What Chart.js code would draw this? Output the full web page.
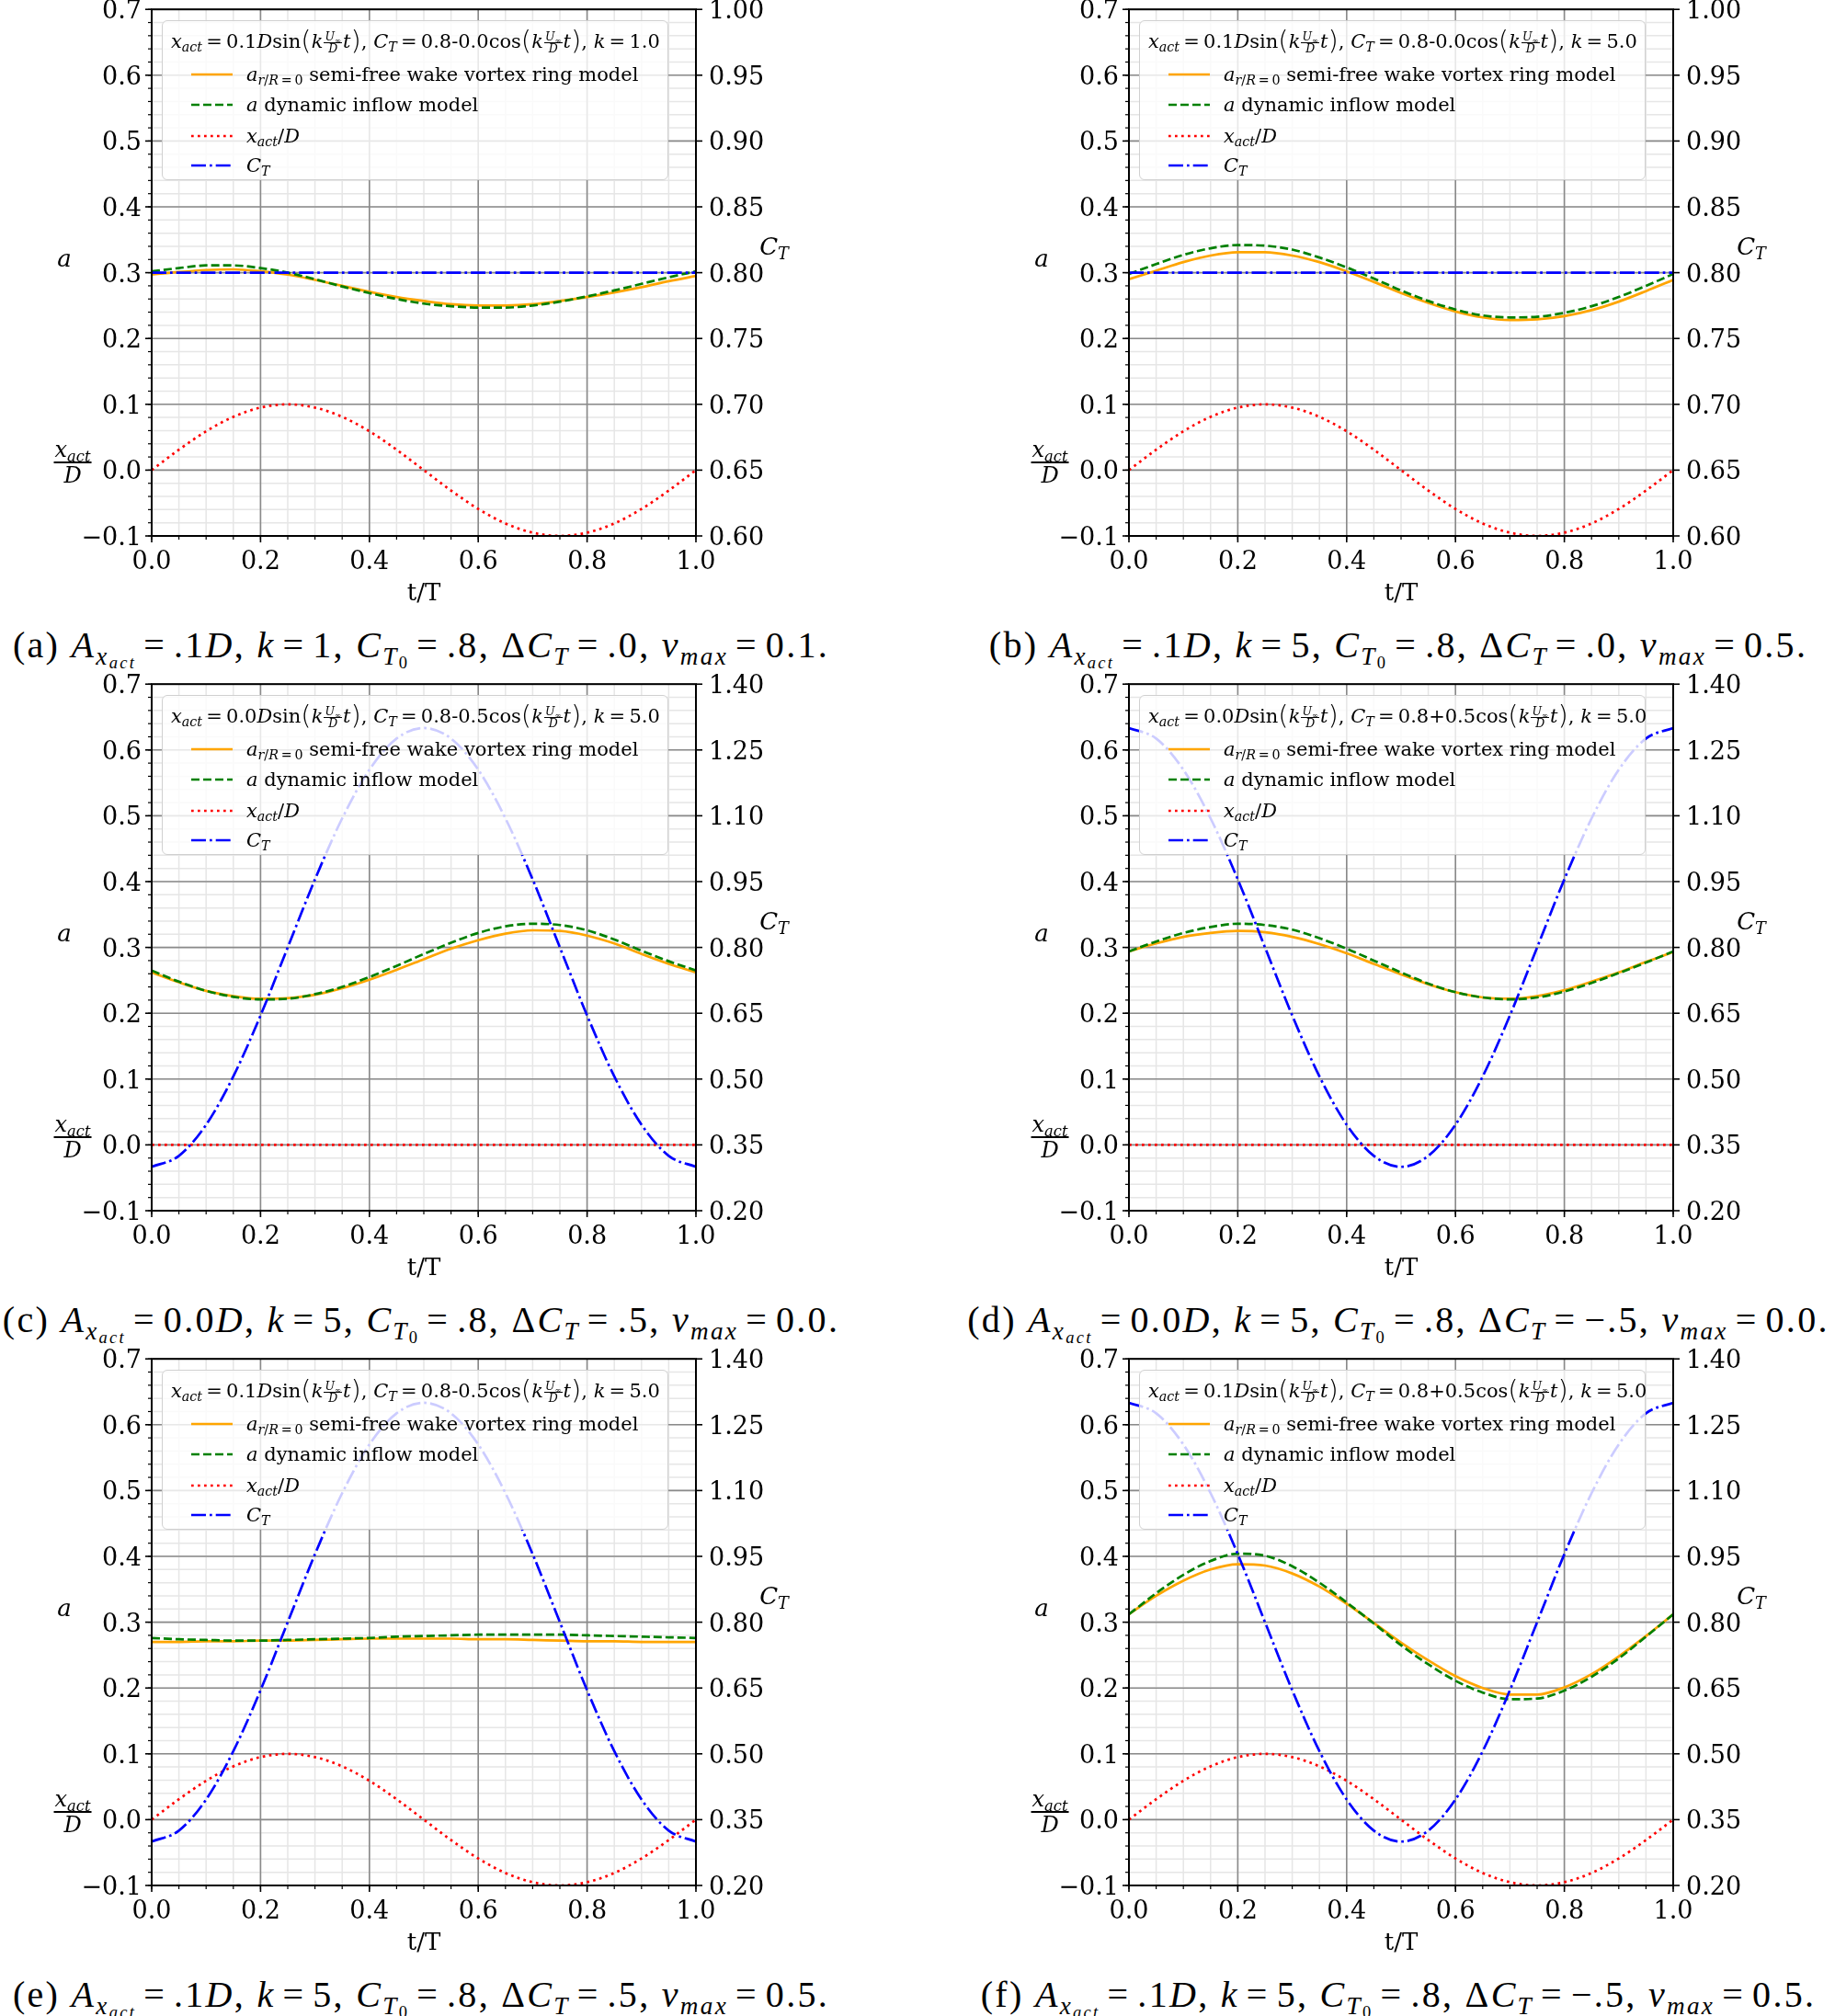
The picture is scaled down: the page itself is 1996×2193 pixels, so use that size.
<!DOCTYPE html>
<html>
<head>
<meta charset="utf-8">
<script src="https://cdn.jsdelivr.net/npm/chart.js@4.4.1/dist/chart.umd.min.js"></script>
<style>
  body { margin: 0; background: #fff; width: 1996px; height: 2193px; position: relative; overflow: hidden; font-family: "DejaVu Serif", serif; color: #000; }
  .panel { position: absolute; width: 592px; height: 573px; }
  .panel canvas { position: absolute; left: -160px; top: -30px; }
  .leg { position: absolute; left: 11px; top: 12px; width: 551px; height: 174px; box-sizing: border-box;
         background: rgba(255,255,255,0.8); border: 1.5px solid #d0d0d0; border-radius: 6px; }
  .leg .ttl { position: absolute; left: 9px; top: 7px; white-space: nowrap; font-size: 21px; line-height: 30px; }
  .leg .row { position: absolute; left: 31px; height: 30px; display: flex; align-items: center; font-size: 21px; white-space: nowrap; }
  .leg .row svg { margin-right: 15px; }
  sub { font-size: 0.68em; vertical-align: -0.3em; line-height: 0; }
  .fr { display: inline-flex; flex-direction: column; align-items: center; vertical-align: middle; font-size: 12.5px; line-height: 12px; margin: 0 1px; }
  .fr > span:first-child { border-bottom: 1px solid #000; padding: 0 1px; }
  .par { font-size: 29px; line-height: 10px; vertical-align: -2px; font-family: "DejaVu Sans", sans-serif; font-weight: 300; }
  .lab { position: absolute; font-size: 26px; line-height: 30px; white-space: nowrap; transform: translate(-50%, -50%); }
  .afr { position: absolute; display: flex; flex-direction: column; align-items: center; font-size: 24px; line-height: 26px; font-style: italic; transform: translate(-50%, -50%); }
  .afr > span:first-child { border-bottom: 2px solid #000; padding: 0 1px 0; }
  .cap { position: absolute; white-space: nowrap; font-family: "Liberation Serif", serif; font-size: 40px; line-height: 40px; letter-spacing: 2.3px; transform: translateX(-50%); }
  .cap .eq { margin: 0 0.2em; }
  .cap sub sub { vertical-align: -0.2em; }
</style>
</head>
<body>
<script>
// sample times t/T
const tVals = [0, 0.05, 0.1, 0.15, 0.2, 0.25, 0.3, 0.35, 0.4, 0.45, 0.5, 0.55, 0.6, 0.65, 0.7, 0.75, 0.8, 0.85, 0.9, 0.95, 1.0];

// actuator displacement x_act/D
const xActSine = [0, 0.031, 0.059, 0.081, 0.095, 0.1, 0.095, 0.081, 0.059, 0.031, 0, -0.031, -0.059, -0.081, -0.095, -0.1, -0.095, -0.081, -0.059, -0.031, 0];
const xActZero = [0, 0, 0, 0, 0, 0, 0, 0, 0, 0, 0, 0, 0, 0, 0, 0, 0, 0, 0, 0, 0];

// thrust coefficient C_T (right axis)
const ctFlat = [0.8, 0.8, 0.8, 0.8, 0.8, 0.8, 0.8, 0.8, 0.8, 0.8, 0.8, 0.8, 0.8, 0.8, 0.8, 0.8, 0.8, 0.8, 0.8, 0.8, 0.8];
const ctMinusCos = [0.3, 0.325, 0.396, 0.506, 0.645, 0.8, 0.955, 1.094, 1.205, 1.276, 1.3, 1.276, 1.205, 1.094, 0.955, 0.8, 0.645, 0.506, 0.396, 0.325, 0.3];
const ctPlusCos = [1.3, 1.276, 1.205, 1.094, 0.955, 0.8, 0.645, 0.506, 0.396, 0.325, 0.3, 0.325, 0.396, 0.506, 0.645, 0.8, 0.955, 1.094, 1.205, 1.276, 1.3];

// induction a: vortex ring model (ring) and dynamic inflow model (dyn)
const aRingA = [0.297, 0.301, 0.304, 0.305, 0.302, 0.297, 0.289, 0.280, 0.271, 0.263, 0.257, 0.252, 0.250, 0.250, 0.252, 0.257, 0.263, 0.270, 0.278, 0.287, 0.295];
const aDynA  = [0.302, 0.307, 0.311, 0.311, 0.307, 0.300, 0.290, 0.279, 0.269, 0.260, 0.253, 0.249, 0.247, 0.247, 0.250, 0.256, 0.264, 0.273, 0.283, 0.293, 0.302];
const aRingB = [0.290, 0.303, 0.316, 0.326, 0.331, 0.331, 0.326, 0.316, 0.302, 0.286, 0.269, 0.254, 0.241, 0.232, 0.228, 0.229, 0.234, 0.243, 0.256, 0.272, 0.289];
const aDynB  = [0.298, 0.313, 0.327, 0.337, 0.342, 0.341, 0.335, 0.323, 0.308, 0.291, 0.273, 0.257, 0.244, 0.235, 0.232, 0.233, 0.239, 0.249, 0.263, 0.280, 0.298];
const aRingC = [0.262, 0.247, 0.234, 0.226, 0.222, 0.223, 0.228, 0.238, 0.251, 0.266, 0.282, 0.298, 0.311, 0.321, 0.326, 0.325, 0.318, 0.306, 0.290, 0.275, 0.262];
const aDynC  = [0.265, 0.248, 0.234, 0.225, 0.221, 0.222, 0.229, 0.240, 0.255, 0.272, 0.290, 0.307, 0.322, 0.332, 0.336, 0.334, 0.326, 0.312, 0.295, 0.279, 0.265];
const aRingD = [0.294, 0.306, 0.316, 0.322, 0.325, 0.323, 0.316, 0.305, 0.291, 0.275, 0.259, 0.244, 0.232, 0.224, 0.222, 0.226, 0.235, 0.248, 0.262, 0.278, 0.293];
const aDynD  = [0.294, 0.309, 0.322, 0.331, 0.336, 0.334, 0.327, 0.314, 0.298, 0.280, 0.262, 0.245, 0.232, 0.224, 0.221, 0.224, 0.233, 0.246, 0.261, 0.277, 0.294];
const aRingE = [0.270, 0.270, 0.271, 0.271, 0.272, 0.272, 0.273, 0.274, 0.275, 0.275, 0.275, 0.275, 0.274, 0.274, 0.273, 0.272, 0.271, 0.271, 0.270, 0.270, 0.270];
const aDynE  = [0.276, 0.274, 0.273, 0.272, 0.272, 0.273, 0.274, 0.275, 0.276, 0.278, 0.279, 0.280, 0.281, 0.281, 0.281, 0.281, 0.280, 0.279, 0.278, 0.277, 0.276];
const aRingF = [0.312, 0.340, 0.363, 0.380, 0.388, 0.386, 0.374, 0.354, 0.328, 0.299, 0.269, 0.242, 0.218, 0.200, 0.190, 0.190, 0.201, 0.221, 0.248, 0.279, 0.312];
const aDynF  = [0.312, 0.344, 0.372, 0.393, 0.404, 0.401, 0.385, 0.360, 0.330, 0.298, 0.265, 0.236, 0.211, 0.193, 0.183, 0.184, 0.196, 0.217, 0.245, 0.278, 0.312];

// ticks
const xMajor = [0, 0.2, 0.4, 0.6, 0.8, 1.0];
const xLabels = ['0.0', '0.2', '0.4', '0.6', '0.8', '1.0'];
const yMajor = [-0.1, 0, 0.1, 0.2, 0.3, 0.4, 0.5, 0.6, 0.7];
const yLabels = ['\u22120.1', '0.0', '0.1', '0.2', '0.3', '0.4', '0.5', '0.6', '0.7'];
const ctTicksLow = [0.6, 0.65, 0.7, 0.75, 0.8, 0.85, 0.9, 0.95, 1.0];
const ctLabelsLow = ['0.60', '0.65', '0.70', '0.75', '0.80', '0.85', '0.90', '0.95', '1.00'];
const ctTicksHigh = [0.2, 0.35, 0.5, 0.65, 0.8, 0.95, 1.1, 1.25, 1.4];
const ctLabelsHigh = ['0.20', '0.35', '0.50', '0.65', '0.80', '0.95', '1.10', '1.25', '1.40'];

// minor tick positions
const xMinor = [];
for (let i = 0; i <= 20; i++) xMinor.push(i * 0.05);
const yMinor = [];
for (let i = 0; i <= 40; i++) yMinor.push(-0.1 + i * 0.02);

const panels = [
  { tag: 'a', ring: aRingA, dyn: aDynA, xact: xActSine, ct: ctFlat, ctT: ctTicksLow, ctL: ctLabelsLow, amp: '0.1', sgn: '-', dct: '0.0', k: '1.0',
    cap: ['.1', '1', '.0', '0.1'] },
  { tag: 'b', ring: aRingB, dyn: aDynB, xact: xActSine, ct: ctFlat, ctT: ctTicksLow, ctL: ctLabelsLow, amp: '0.1', sgn: '-', dct: '0.0', k: '5.0',
    cap: ['.1', '5', '.0', '0.5'] },
  { tag: 'c', ring: aRingC, dyn: aDynC, xact: xActZero, ct: ctMinusCos, ctT: ctTicksHigh, ctL: ctLabelsHigh, amp: '0.0', sgn: '-', dct: '0.5', k: '5.0',
    cap: ['0.0', '5', '.5', '0.0'] },
  { tag: 'd', ring: aRingD, dyn: aDynD, xact: xActZero, ct: ctPlusCos, ctT: ctTicksHigh, ctL: ctLabelsHigh, amp: '0.0', sgn: '+', dct: '0.5', k: '5.0',
    cap: ['0.0', '5', '\u2212.5', '0.0'] },
  { tag: 'e', ring: aRingE, dyn: aDynE, xact: xActSine, ct: ctMinusCos, ctT: ctTicksHigh, ctL: ctLabelsHigh, amp: '0.1', sgn: '-', dct: '0.5', k: '5.0',
    cap: ['.1', '5', '.5', '0.5'] },
  { tag: 'f', ring: aRingF, dyn: aDynF, xact: xActSine, ct: ctPlusCos, ctT: ctTicksHigh, ctL: ctLabelsHigh, amp: '0.1', sgn: '+', dct: '0.5', k: '5.0',
    cap: ['.1', '5', '\u2212.5', '0.5'] }
];

const colLeft = [165, 1228];
const rowTop = [10, 744, 1478];
const tickFont = { family: 'DejaVu Serif', size: 27 };

function near(a, b) { return Math.abs(a - b) < 1e-6; }
function labelFor(vals, labels, v) {
  const i = vals.findIndex(m => near(m, v));
  return i >= 0 ? labels[i] : '';
}

const framePlugin = {
  id: 'frame',
  beforeDatasetsDraw(chart) {
    const { ctx, chartArea: ca, scales: { x, y } } = chart;
    ctx.save();
    ctx.lineWidth = 1.5;
    ctx.strokeStyle = '#e6e6e6';
    xMinor.forEach(v => {
      const px = x.getPixelForValue(v);
      ctx.beginPath(); ctx.moveTo(px, ca.top); ctx.lineTo(px, ca.bottom); ctx.stroke();
    });
    yMinor.forEach(v => {
      const py = y.getPixelForValue(v);
      ctx.beginPath(); ctx.moveTo(ca.left, py); ctx.lineTo(ca.right, py); ctx.stroke();
    });
    ctx.strokeStyle = '#8a8a8a';
    ctx.lineWidth = 1.6;
    xMajor.forEach(v => {
      const px = x.getPixelForValue(v);
      ctx.beginPath(); ctx.moveTo(px, ca.top); ctx.lineTo(px, ca.bottom); ctx.stroke();
    });
    yMajor.forEach(v => {
      const py = y.getPixelForValue(v);
      ctx.beginPath(); ctx.moveTo(ca.left, py); ctx.lineTo(ca.right, py); ctx.stroke();
    });
    ctx.restore();
  },
  afterDraw(chart) {
    const { ctx, chartArea: ca, scales: { x, y, y2 } } = chart;
    ctx.save();
    ctx.strokeStyle = '#000';
    // minor ticks
    ctx.lineWidth = 1.2;
    xMinor.forEach(v => {
      const px = x.getPixelForValue(v);
      ctx.beginPath(); ctx.moveTo(px, ca.bottom); ctx.lineTo(px, ca.bottom + 4); ctx.stroke();
    });
    yMinor.forEach(v => {
      const py = y.getPixelForValue(v);
      ctx.beginPath(); ctx.moveTo(ca.left - 4, py); ctx.lineTo(ca.left, py); ctx.stroke();
    });
    // major ticks
    ctx.lineWidth = 1.6;
    xMajor.forEach(v => {
      const px = x.getPixelForValue(v);
      ctx.beginPath(); ctx.moveTo(px, ca.bottom); ctx.lineTo(px, ca.bottom + 7); ctx.stroke();
    });
    yMajor.forEach(v => {
      const py = y.getPixelForValue(v);
      ctx.beginPath(); ctx.moveTo(ca.left - 7, py); ctx.lineTo(ca.left, py); ctx.stroke();
    });
    y2.ticks.forEach(t => {
      const py = y2.getPixelForValue(t.value);
      ctx.beginPath(); ctx.moveTo(ca.right, py); ctx.lineTo(ca.right + 7, py); ctx.stroke();
    });
    // spines
    ctx.lineWidth = 2;
    ctx.strokeRect(ca.left, ca.top, ca.right - ca.left, ca.bottom - ca.top);
    ctx.restore();
  }
};

function frac() {
  return '<span class="fr"><span><i>U</i><sub>\u221e</sub></span><span><i>D</i></span></span>';
}
function legendTitle(p) {
  return '<i>x</i><sub><i>act</i></sub>\u2009=\u2009' + p.amp + '<i>D</i>sin<span class="par">(</span><i>k</i>' + frac() +
    '<i>t</i><span class="par">)</span>, <i>C</i><sub><i>T</i></sub>\u2009=\u20090.8' + p.sgn + p.dct +
    'cos<span class="par">(</span><i>k</i>' + frac() + '<i>t</i><span class="par">)</span>, <i>k</i>\u2009=\u2009' + p.k;
}
function sample(color, dash) {
  return '<svg width="45" height="8"><line x1="0" y1="4" x2="45" y2="4" stroke="' + color +
    '" stroke-width="2.7"' + (dash ? ' stroke-dasharray="' + dash + '"' : '') + '/></svg>';
}
function caption(p) {
  const eq = '<span class="eq">=</span>';
  return '(' + p.tag + ') <i>A</i><sub><i>x</i><sub><i>act</i></sub></sub>' + eq + p.cap[0] + '<i>D</i>, <i>k</i>' + eq + p.cap[1] +
    ', <i>C</i><sub><i>T</i><sub>0</sub></sub>' + eq + '.8, \u0394<i>C</i><sub><i>T</i></sub>' + eq + p.cap[2] +
    ', <i>v</i><sub><i>max</i></sub>' + eq + p.cap[3] + '.';
}

panels.forEach((p, idx) => {
  const left = colLeft[idx % 2];
  const top = rowTop[Math.floor(idx / 2)];
  const div = document.createElement('div');
  div.className = 'panel';
  div.style.left = left + 'px';
  div.style.top = top + 'px';
  const canvas = document.createElement('canvas');
  canvas.width = 872; canvas.height = 663;
  canvas.style.width = '872px'; canvas.style.height = '663px';
  div.appendChild(canvas);

  const rows = [
    sample('#ffa500', null) + '<span><i>a</i><sub><i>r</i>/<i>R</i>\u2009=\u20090</sub> semi-free wake vortex ring model</span>',
    sample('#008000', '9 4') + '<span><i>a</i> dynamic inflow model</span>',
    sample('#ff0000', '2.7 4.3') + '<span><i>x</i><sub><i>act</i></sub>/<i>D</i></span>',
    sample('#0000ff', '16 4 2.7 4') + '<span><i>C</i><sub><i>T</i></sub></span>'
  ];
  const rowTops = [43, 76, 110, 142];
  let leg = '<div class="leg"><div class="ttl">' + legendTitle(p) + '</div>';
  rows.forEach((r, i) => { leg += '<div class="row" style="top:' + rowTops[i] + 'px">' + r + '</div>'; });
  leg += '</div>';
  div.insertAdjacentHTML('beforeend', leg);
  div.insertAdjacentHTML('beforeend',
    '<div class="lab" style="left:-95px;top:271px"><i>a</i></div>' +
    '<div class="afr" style="left:-86px;top:493px"><span>x<sub>act</sub></span><span>D</span></div>' +
    '<div class="lab" style="left:677px;top:258px"><i>C</i><sub><i>T</i></sub></div>' +
    '<div class="lab" style="left:296px;top:634px">t/T</div>' +
    '<div class="cap" style="left:293px;top:672px">' + caption(p) + '</div>');
  document.body.appendChild(div);

  const pts = arr => tVals.map((t, i) => ({ x: t, y: arr[i] }));
  new Chart(canvas.getContext('2d'), {
    type: 'line',
    data: {
      datasets: [
        { label: 'C_T', data: pts(p.ct), yAxisID: 'y2', borderColor: '#0000ff', borderWidth: 2.7, borderDash: [16, 4, 2.7, 4] },
        { label: 'x_act/D', data: pts(p.xact), yAxisID: 'y', borderColor: '#ff0000', borderWidth: 2.7, borderDash: [2.7, 4.3] },
        { label: 'a dynamic inflow model', data: pts(p.dyn), yAxisID: 'y', borderColor: '#008000', borderWidth: 2.7, borderDash: [9, 4] },
        { label: 'a semi-free wake vortex ring model', data: pts(p.ring), yAxisID: 'y', borderColor: '#ffa500', borderWidth: 2.7 }
      ]
    },
    options: {
      responsive: false,
      animation: false,
      devicePixelRatio: 1,
      layout: { padding: 0 },
      plugins: { legend: { display: false }, tooltip: { enabled: false } },
      elements: { point: { radius: 0 }, line: { cubicInterpolationMode: 'monotone', fill: false } },
      scales: {
        x: {
          type: 'linear', min: 0, max: 1,
          afterBuildTicks: s => { s.ticks = xMinor.map(v => ({ value: v })); },
          afterFit: s => { s.height = 60; },
          grid: { display: false, drawTicks: false },
          border: { display: false },
          ticks: { autoSkip: false, maxRotation: 0, padding: 13, color: '#000', font: tickFont,
                   callback: v => labelFor(xMajor, xLabels, v) }
        },
        y: {
          position: 'left', min: -0.1, max: 0.7,
          afterBuildTicks: s => { s.ticks = yMajor.map(v => ({ value: v })); },
          afterFit: s => { s.width = 160; },
          grid: { display: false, drawTicks: false },
          border: { display: false },
          ticks: { autoSkip: false, padding: 11, labelOffset: 3, color: '#000', font: tickFont,
                   callback: v => labelFor(yMajor, yLabels, v) }
        },
        y2: {
          position: 'right', min: p.ctT[0], max: p.ctT[p.ctT.length - 1],
          afterBuildTicks: s => { s.ticks = p.ctT.map(v => ({ value: v })); },
          afterFit: s => { s.width = 120; },
          grid: { display: false, drawTicks: false },
          border: { display: false },
          ticks: { autoSkip: false, padding: 14, labelOffset: 3, color: '#000', font: tickFont,
                   callback: v => labelFor(p.ctT, p.ctL, v) }
        }
      }
    },
    plugins: [framePlugin]
  });
});
</script>
</body>
</html>
